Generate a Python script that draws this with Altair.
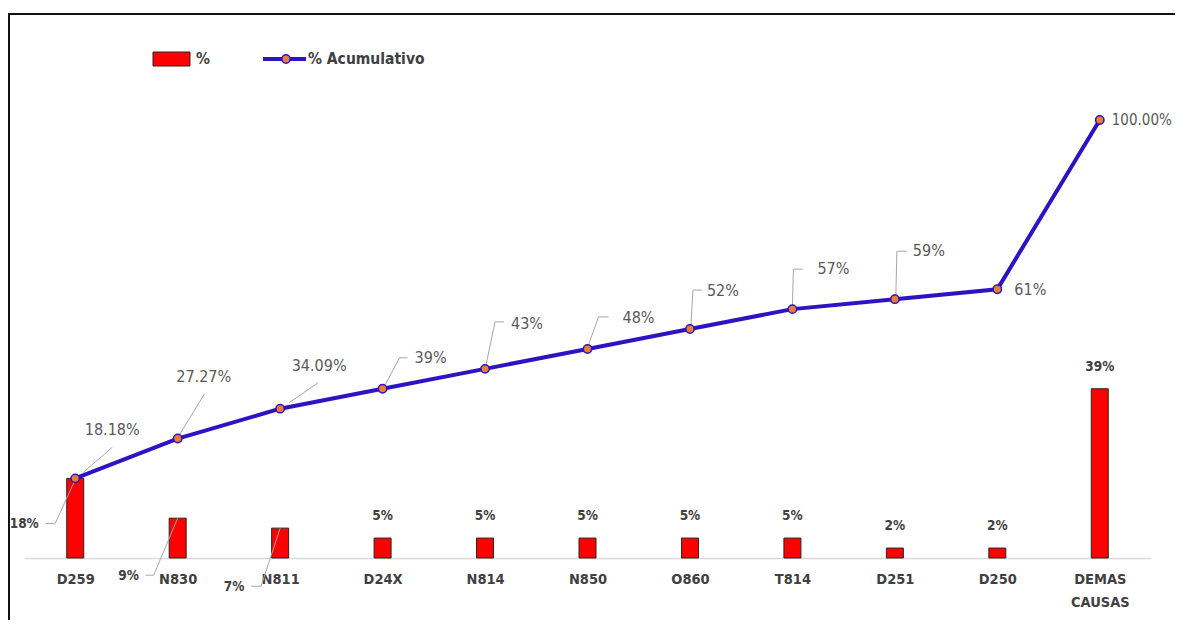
import altair as alt
import pandas as pd

# ---------------- data ----------------
categories = ["D259", "N830", "N811", "D24X", "N814", "N850", "O860", "T814", "D251", "D250", "DEMAS CAUSAS"]
pct_values = [18.18, 9.09, 6.82, 4.55, 4.55, 4.55, 4.55, 4.55, 2.27, 2.27, 38.64]
pct_labels = ["18%", "9%", "7%", "5%", "5%", "5%", "5%", "5%", "2%", "2%", "39%"]
cum_values = [18.18, 27.27, 34.09, 38.64, 43.18, 47.73, 52.27, 56.82, 59.09, 61.36, 100.00]
cum_labels = ["18.18%", "27.27%", "34.09%", "39%", "43%", "48%", "52%", "57%", "59%", "61%", "100.00%"]

df = pd.DataFrame({
    "cat": categories,
    "pct": pct_values,
    "pct_label": pct_labels,
    "cum": cum_values,
    "cum_label": cum_labels,
})

# ---------------- styling ----------------
W, H = 1127, 438
FONT = "Liberation Sans Narrow, DejaVu Sans Condensed, Arial Narrow, sans-serif"
BLUE = "#2B14C2"
ORANGE = "#ED7D31"
RED = "#FF0000"
LEADER = "#A6A6A6"

# label placement (pixel offsets from the data point) - styling only
cum_label_style = {
    "D259": dict(dx=37, dy=-48, align="center", leader=[(8, -6), (37, -31)]),
    "N830": dict(dx=26, dy=-62, align="center", leader=[(2, -4), (27, -45)]),
    "N811": dict(dx=39, dy=-43, align="center", leader=[(9, -6), (38, -26)]),
    "D24X": dict(dx=48, dy=-31, align="center", leader=[(2, -3), (17, -31), (25, -31)]),
    "N814": dict(dx=42, dy=-45, align="center", leader=[(1, -4), (10, -47), (19, -47)]),
    "N850": dict(dx=51, dy=-31, align="center", leader=[(1, -4), (11, -32), (21, -32)]),
    "O860": dict(dx=33, dy=-38, align="center", leader=[(1, -4), (3, -39), (12, -39)]),
    "T814": dict(dx=41, dy=-40, align="center", leader=[(0, -4), (1, -40), (10, -40)]),
    "D251": dict(dx=34, dy=-48, align="center", leader=[(1, -4), (2, -48), (12, -48)]),
    "D250": dict(dx=17, dy=1, align="left", leader=[]),
    "DEMAS CAUSAS": dict(dx=12, dy=0, align="left", leader=[], size=15),
}
pct_label_style = {
    "D259": dict(dx=-51, dy=46, leader=[(1, -1), (-20, 45), (-30, 45)]),
    "N830": dict(dx=-49, dy=58, leader=[(0, 0), (-24, 57), (-32, 57)]),
    "N811": dict(dx=-46, dy=59, leader=[(0, 0), (-19, 58), (-29, 58)]),
}

xscale = alt.Scale(type="point", padding=0.5, domain=categories)
yscale = alt.Scale(domain=[0, 100], nice=False, zero=True)

x_axis = alt.Axis(
    title=None, labelAngle=0, ticks=False, domainColor="#D9D9D9", domainWidth=1.5,
    labelFont=FONT, labelFontWeight="bold", labelFontSize=14.5, labelColor="#404040",
    labelPadding=14, labelExpr="split(datum.label, ' ')", labelLineHeight=23,
)

X = alt.X("cat:N", scale=xscale, axis=x_axis)
X2 = alt.X2("cat")

base = alt.Chart(df)

bars = base.mark_bar(size=17, color=RED, stroke="#262626", strokeWidth=1).encode(
    x=X, y=alt.Y("pct:Q", scale=yscale, axis=None)
)

line = base.mark_line(color=BLUE, strokeWidth=4).encode(
    x=alt.X("cat:N", scale=xscale), y=alt.Y("cum:Q", scale=yscale)
)
points = base.mark_point(filled=True, fill=ORANGE, stroke=BLUE, strokeWidth=1.5, size=70, opacity=1).encode(
    x=alt.X("cat:N", scale=xscale), y=alt.Y("cum:Q", scale=yscale)
)

layers = [bars]

# bar labels above bars (plain ones)
plain = [c for c in categories if c not in pct_label_style]
layers.append(
    base.transform_filter(alt.FieldOneOfPredicate(field="cat", oneOf=plain))
    .mark_text(font=FONT, fontSize=13.5, fontWeight="bold", color="#404040", dy=-22, baseline="middle")
    .encode(x=alt.X("cat:N", scale=xscale), y=alt.Y("pct:Q", scale=yscale), text="pct_label:N")
)


def leader_rules(cat, field, pts):
    out = []
    for (a, b) in zip(pts[:-1], pts[1:]):
        out.append(
            base.transform_filter(alt.FieldEqualPredicate(field="cat", equal=cat))
            .mark_rule(color=LEADER, strokeWidth=1, xOffset=a[0], yOffset=a[1], x2Offset=b[0], y2Offset=b[1])
            .encode(
                x=alt.X("cat:N", scale=xscale), x2=X2,
                y=alt.Y(f"{field}:Q", scale=yscale), y2=alt.Y2(field),
            )
        )
    return out


for cat, st in pct_label_style.items():
    layers += leader_rules(cat, "pct", st["leader"])
    layers.append(
        base.transform_filter(alt.FieldEqualPredicate(field="cat", equal=cat))
        .mark_text(font=FONT, fontSize=13.5, fontWeight="bold", color="#404040",
                   dx=st["dx"], dy=st["dy"], baseline="middle")
        .encode(x=alt.X("cat:N", scale=xscale), y=alt.Y("pct:Q", scale=yscale), text="pct_label:N")
    )

layers += [line]

for cat, st in cum_label_style.items():
    layers += leader_rules(cat, "cum", st["leader"])
    layers.append(
        base.transform_filter(alt.FieldEqualPredicate(field="cat", equal=cat))
        .mark_text(font=FONT, fontSize=st.get("size", 16), color="#595959",
                   dx=st["dx"], dy=st["dy"], align=st["align"], baseline="middle")
        .encode(x=alt.X("cat:N", scale=xscale), y=alt.Y("cum:Q", scale=yscale), text="cum_label:N")
    )

layers.append(points)

# ---------------- legend (drawn) ----------------
one = alt.Chart(alt.Data(values=[{"k": 1}]))
legend = [
    one.mark_rect(color=RED, stroke="#262626", strokeWidth=1).encode(
        x=alt.value(129), x2=alt.value(166), y=alt.value(-68), y2=alt.value(-54)),
    one.mark_text(text="%", font=FONT, fontSize=15.5, fontWeight="bold", color="#404040",
                  align="left", baseline="middle").encode(x=alt.value(172), y=alt.value(-61)),
    one.mark_rule(color=BLUE, strokeWidth=4).encode(
        x=alt.value(239), x2=alt.value(282), y=alt.value(-61)),
    one.mark_point(filled=True, fill=ORANGE, stroke=BLUE, strokeWidth=1.5, size=70, opacity=1).encode(
        x=alt.value(262), y=alt.value(-61)),
    one.mark_text(text="% Acumulativo", font=FONT, fontSize=15.5, fontWeight="bold", color="#404040",
                  align="left", baseline="middle").encode(x=alt.value(284), y=alt.value(-61)),
    one.mark_rect(fillOpacity=0, stroke="#111111", strokeWidth=2).encode(
        x=alt.value(-15), x2=alt.value(W + 200), y=alt.value(-106), y2=alt.value(H + 300)),
]

chart = alt.layer(*layers, *legend).properties(
    width=W, height=H,
    autosize=alt.AutoSizeParams(type="none"),
    padding={"left": 16, "top": 112, "right": 24, "bottom": 62},
).configure_view(stroke=None)

chart.save("out.html", embed_options={"renderer": "svg", "actions": False})
